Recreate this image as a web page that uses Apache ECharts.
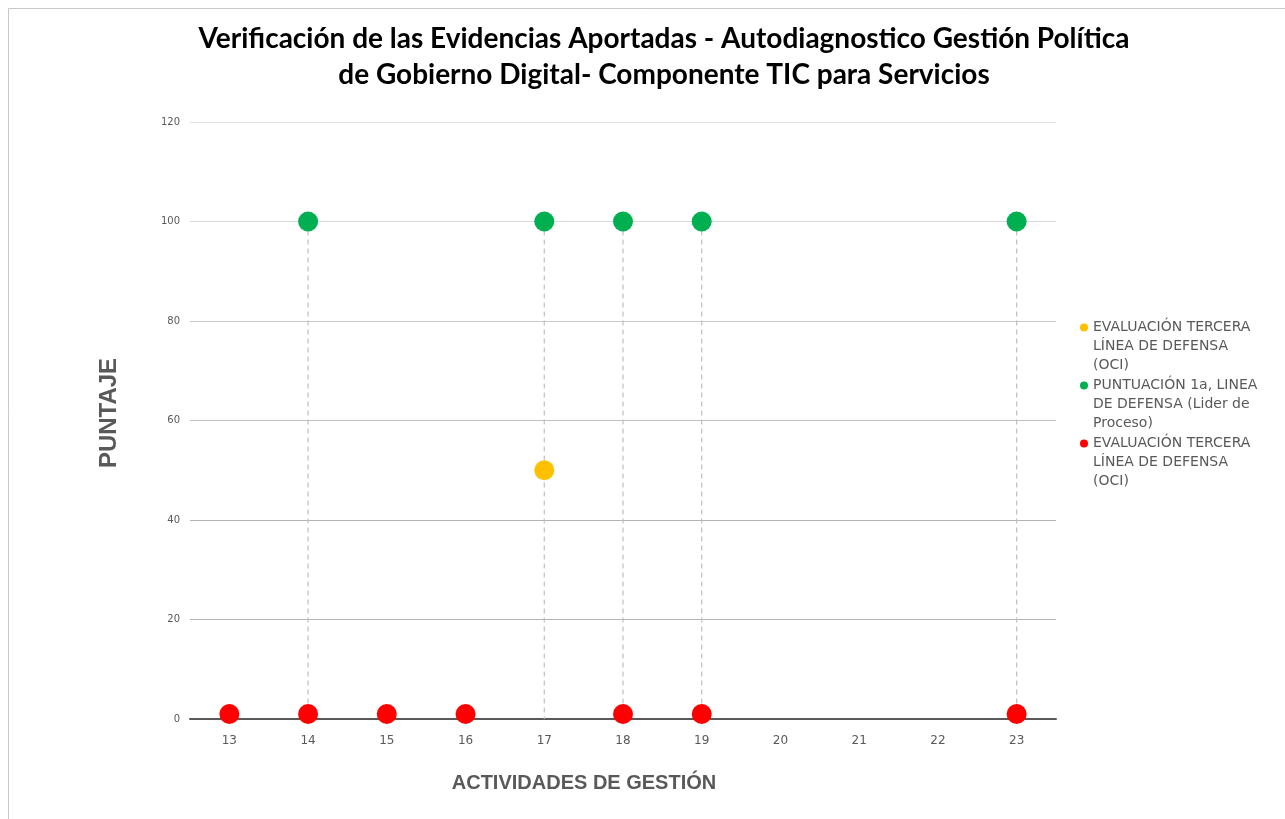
<!DOCTYPE html>
<html>
<head>
<meta charset="utf-8">
<title>Autodiagnostico Gobierno Digital</title>
<script src="https://cdn.jsdelivr.net/npm/echarts@6/dist/echarts.min.js"></script>
<style>
html, body { margin: 0; padding: 0; background: #fff; }
#chart { width: 1285px; height: 819px; }
</style>
</head>
<body>
<div id="chart"></div>
<script>
// actividades de gestion
var categorias = ["13", "14", "15", "16", "17", "18", "19", "20", "21", "22", "23"];
var yTicks = [0, 20, 40, 60, 80, 100, 120];

// null = sin dato
var evalOciAmarillo = [null, null, null, null, 50, null, null, null, null, null, null];
var puntuacionLider = [null, 100, null, null, 100, 100, 100, null, null, null, 100];
var evalOciRojo = [1, 1, 1, 1, null, 1, 1, null, null, null, 1];

// dos lineas vacias arriba para que el punto quede en la primera linea
var nombreOci = "\n\nEVALUACIÓN TERCERA\nLÍNEA DE DEFENSA\n(OCI)";
var nombreLider = "\n\nPUNTUACIÓN 1a, LINEA\nDE DEFENSA (Lider de\nProceso)";
var nombreOci2 = nombreOci + " "; // mismo texto, otra serie

// lineas punteadas desde el valor mas alto hasta el eje
var lineasGuia = [];
for (var i = 0; i < categorias.length; i++) {
    var vals = [evalOciAmarillo[i], puntuacionLider[i], evalOciRojo[i]].filter(function (v) { return v != null; });
    if (vals.length) {
        lineasGuia.push([categorias[i], Math.max.apply(null, vals)]);
    }
}

var chart = echarts.init(document.getElementById("chart"));

var option = {
    backgroundColor: "#fff",
    animation: false,
    legend: {
        orient: "vertical",
        left: 1075,
        top: 275,
        itemGap: -37,
        icon: "circle",
        itemWidth: 8,
        itemHeight: 8,
        textStyle: {
            fontFamily: "DejaVu Sans",
            fontSize: 14,
            lineHeight: 19,
            color: "#595959"
        },
        data: [nombreOci, nombreLider, nombreOci2]
    },
    grid: {
        left: 190,
        right: 229,
        top: 122,
        bottom: 100
    },
    xAxis: {
        type: "category",
        data: categorias,
        axisLine: { lineStyle: { color: "#595959", width: 2 } },
        axisTick: { show: false },
        axisLabel: {
            fontFamily: "DejaVu Sans",
            fontSize: 12,
            color: "#595959",
            margin: 16
        }
    },
    yAxis: {
        type: "value",
        min: 0,
        max: 120,
        interval: 20,
        axisLine: { show: false },
        axisTick: { show: false },
        axisLabel: {
            fontFamily: "DejaVu Sans",
            fontSize: 10,
            color: "#595959",
            margin: 10,
            formatter: function (v) { return yTicks.indexOf(v) >= 0 ? v : ""; }
        },
        splitLine: {
            lineStyle: {
                color: ["#595959", "#b3b3b3", "#b3b3b3", "#bfbfbf", "#c8c8c8", "#d9d9d9", "#e3e3e3"],
                width: 1
            }
        }
    },
    graphic: [
        {
            type: "rect",
            silent: true,
            shape: { x: 8.5, y: 8.5, width: 1300, height: 830 },
            style: { fill: "none", stroke: "#c8c8c8", lineWidth: 1 }
        },
        {
            type: "text",
            x: 664,
            y: 21,
            style: {
                text: "Verificación de las Evidencias Aportadas - Autodiagnostico Gestión Política\nde Gobierno Digital- Componente TIC para Servicios",
                font: "bold 28px Lato",
                lineHeight: 36,
                fill: "#000",
                align: "center",
                verticalAlign: "top"
            }
        },
        {
            type: "text",
            x: 109,
            y: 413,
            rotation: Math.PI / 2,
            style: {
                text: "PUNTAJE",
                font: "bold 24px 'Liberation Sans'",
                fill: "#595959",
                align: "center",
                verticalAlign: "middle"
            }
        },
        {
            type: "text",
            x: 584,
            y: 783,
            style: {
                text: "ACTIVIDADES DE GESTIÓN",
                font: "bold 20px 'Liberation Sans'",
                fill: "#595959",
                align: "center",
                verticalAlign: "middle"
            }
        }
    ],
    series: [
        {
            name: "guia",
            type: "custom",
            silent: true,
            z: 1,
            data: lineasGuia,
            renderItem: function (params, api) {
                var top = api.coord([api.value(0), api.value(1)]);
                var bottom = api.coord([api.value(0), 0]);
                return {
                    type: "line",
                    shape: { x1: top[0], y1: top[1], x2: bottom[0], y2: bottom[1] },
                    style: { stroke: "#bfbfbf", lineWidth: 1.2, lineDash: [5, 4] }
                };
            }
        },
        {
            name: nombreOci,
            type: "scatter",
            symbolSize: 20,
            z: 3,
            itemStyle: { color: "#ffc000", opacity: 1 },
            data: evalOciAmarillo
        },
        {
            name: nombreLider,
            type: "scatter",
            symbolSize: 20,
            z: 3,
            itemStyle: { color: "#00b050", opacity: 1 },
            data: puntuacionLider
        },
        {
            name: nombreOci2,
            type: "scatter",
            symbolSize: 20,
            z: 3,
            itemStyle: { color: "#ff0000", opacity: 1 },
            data: evalOciRojo
        }
    ]
};

chart.setOption(option);
</script>
</body>
</html>
